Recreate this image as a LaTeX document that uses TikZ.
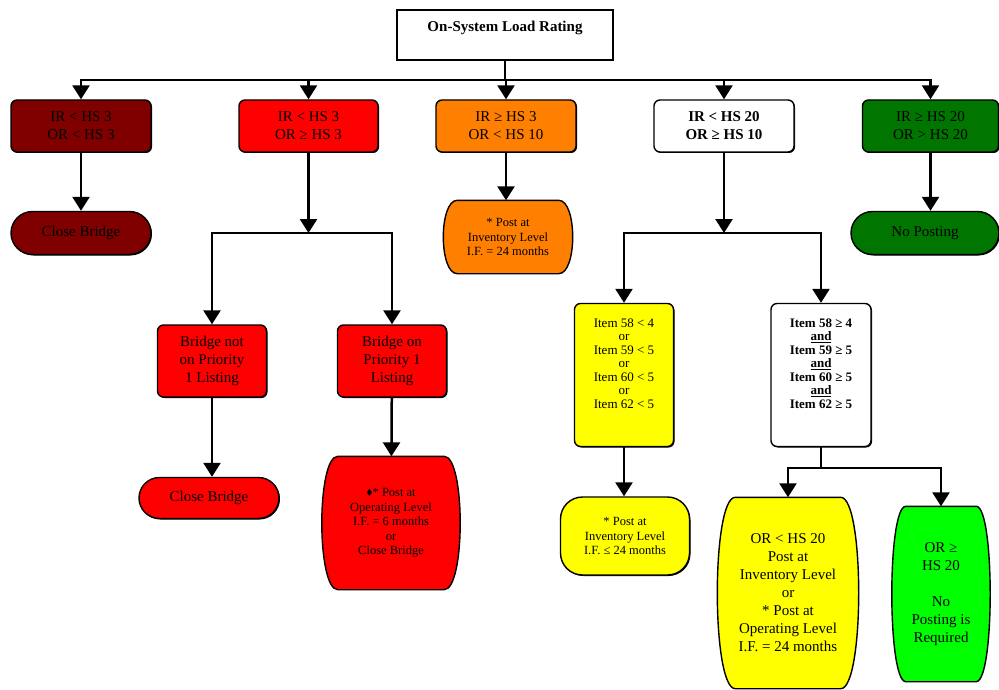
\documentclass[tikz,border=0pt]{standalone}
\usepackage{fontspec}
\setmainfont{Liberation Serif}
\usetikzlibrary{positioning,calc,arrows.meta,shapes.misc,backgrounds,shadows}

\definecolor{maroon}{RGB}{128,0,0}
\definecolor{tangerine}{RGB}{255,128,0}
\definecolor{forest}{RGB}{0,118,0}
\definecolor{lemon}{RGB}{255,255,0}
\definecolor{lime}{RGB}{0,255,0}

\newcommand{\bigtext}{\fontsize{15}{18}\selectfont}
\newcommand{\smalltext}{\fontsize{12.5}{14.5}\selectfont}
\newcommand{\itemtext}{\fontsize{13}{13.5}\selectfont}

% barrel outline round a (borderless) node
\newcommand{\caskoutline}[3]{%
  \begin{scope}[on background layer]
  \draw[line width=1.4pt, fill=#3] ($(#1.north west)+(#2,0)$) -- ($(#1.north east)+(-#2,0)$)
    .. controls ($(#1.north east)+(#2/3,0)$) and ($(#1.south east)+(#2/3,0)$) .. ($(#1.south east)+(-#2,0)$)
    -- ($(#1.south west)+(#2,0)$)
    .. controls ($(#1.south west)+(-#2/3,0)$) and ($(#1.north west)+(-#2/3,0)$) .. cycle;
  \end{scope}}

\begin{document}
\begin{tikzpicture}[x=1pt, y=-1pt,
    block/.style={draw, line width=1.4pt, rounded corners=6pt, align=center, inner sep=0pt,
      font=\bigtext, drop shadow={shadow xshift=1pt, shadow yshift=-1pt, opacity=1, fill=black}},
    stadium/.style={rounded rectangle, draw, line width=1.4pt, align=center, inner sep=0pt,
      font=\bigtext, drop shadow={shadow xshift=1pt, shadow yshift=-1pt, opacity=1, fill=black}},
    cask/.style={align=center, inner sep=0pt},
    wire/.style={line width=2.5pt, line cap=rect},
    arrow/.style={line width=2.5pt, -{Triangle[length=14pt, width=17pt]}}
  ]
  \useasboundingbox (0,0) rectangle (999,690);

  \node[draw, line width=1.4pt, align=center, minimum width=216pt, minimum height=50pt,
    font=\fontsize{15}{18}\selectfont\bfseries] (title) at (505,35) {On-System Load Rating\\\mbox{}};
  \coordinate (bus) at (505,80);

  % first level
  \node[block, fill=maroon, minimum width=140pt, minimum height=52pt] (r1) at (81,126) {IR < HS 3\\OR < HS 3};
  \node[block, fill=red, minimum width=139pt, minimum height=52pt] (r2) at (308.5,126) {IR < HS 3\\OR ≥ HS 3};
  \node[block, fill=tangerine, minimum width=140pt, minimum height=52pt] (r3) at (506,126) {IR ≥ HS 3\\OR < HS 10};
  \node[block, fill=white, minimum width=140pt, minimum height=52pt, font=\bigtext\bfseries] (r4) at (724,126) {IR < HS 20\\OR ≥ HS 10};
  \node[block, fill=forest, minimum width=136pt, minimum height=52pt] (r5) at (930.5,126) {IR ≥ HS 20\\OR > HS 20};

  % second level
  \node[stadium, fill=maroon, minimum width=140pt, minimum height=43pt] (shut1) at (81,233) {Close Bridge};
  \node[cask, minimum width=129pt, minimum height=73pt, font=\smalltext] (post1) at (508,237) {* Post at\\Inventory Level\\I.F. = 24 months};
  \caskoutline{post1}{14}{tangerine}
  \node[stadium, fill=forest, minimum width=148pt, minimum height=43pt] (nopost) at (925,233) {No Posting};
  \coordinate (fork2) at (308.5,233);
  \coordinate (fork4) at (724,233);

  % third level
  \node[block, fill=red, minimum width=109pt, minimum height=72pt] (notlisted) at (212,361) {Bridge not\\on Priority\\1 Listing};
  \node[block, fill=red, minimum width=109pt, minimum height=72pt] (listed) at (392,361) {Bridge on\\Priority 1\\Listing};
  \node[block, fill=lemon, minimum width=99pt, minimum height=143pt, font=\itemtext] (lowitem) at (624,375)
    {Item 58 < 4\\or\\Item 59 < 5\\or\\Item 60 < 5\\or\\Item 62 < 5\\[10pt]\mbox{}};
  \node[block, fill=white, minimum width=100pt, minimum height=143pt, font=\itemtext\bfseries] (highitem) at (821,375)
    {Item 58 ≥ 4\\\underline{and}\\Item 59 ≥ 5\\\underline{and}\\Item 60 ≥ 5\\\underline{and}\\Item 62 ≥ 5\\[10pt]\mbox{}};
  \coordinate (fork6) at (821,468);

  % fourth level
  \node[stadium, fill=red, minimum width=140pt, minimum height=41pt] (shut2) at (209,498) {Close Bridge};
  \node[cask, minimum width=138pt, minimum height=133pt, font=\smalltext] (post2) at (391,523)
    {♦* Post at\\Operating Level\\I.F. = 6 months\\or\\Close Bridge};
  \caskoutline{post2}{16}{red}
  \node[block, rounded corners=22pt, fill=lemon, minimum width=129pt, minimum height=78pt, font=\smalltext] (post3) at (625,536)
    {* Post at\\Inventory Level\\I.F. ≤ 24 months};
  \node[cask, minimum width=141pt, minimum height=191pt, font=\bigtext] (post4) at (788,593)
    {OR < HS 20\\Post at\\Inventory Level\\or\\* Post at\\Operating Level\\I.F. = 24 months};
  \caskoutline{post4}{18}{lemon}
  \node[cask, minimum width=98pt, minimum height=175pt, font=\bigtext] (noneed) at (941,594)
    {OR ≥\\HS 20\\[18pt]No\\Posting is\\Required};
  \caskoutline{noneed}{14}{lime}

  % connectors
  \draw[wire] (title.south) -- (bus);
  \draw[wire] (r1.north |- bus) -- (r5.north |- bus);
  \foreach \n in {r1,r2,r3,r4,r5}
    \draw[arrow] (\n.north |- bus) -- (\n.north);
  \draw[arrow] (r1) -- (shut1);
  \draw[arrow] (r3.south) -- (r3.south |- post1.north);
  \draw[arrow] (r5.south) -- (r5.south |- nopost.north);

  \draw[arrow] (r2.south) -- (fork2);
  \draw[wire] (notlisted.north |- fork2) -- (listed.north |- fork2);
  \draw[arrow] (notlisted.north |- fork2) -- (notlisted.north);
  \draw[arrow] (listed.north |- fork2) -- (listed.north);
  \draw[arrow] (notlisted.south) -- (notlisted.south |- shut2.north);
  \draw[arrow] (listed) -- (post2);

  \draw[arrow] (r4.south) -- (fork4);
  \draw[wire] (lowitem.north |- fork4) -- (highitem.north |- fork4);
  \draw[arrow] (lowitem.north |- fork4) -- (lowitem.north);
  \draw[arrow] (highitem.north |- fork4) -- (highitem.north);
  \draw[arrow] (lowitem.south) -- (lowitem.south |- post3.north);

  \draw[wire] (highitem.south) -- (fork6);
  \draw[wire] (fork6 -| post4.north) -- (fork6 -| noneed.north);
  \draw[arrow] (fork6 -| post4.north) -- (post4.north);
  \draw[arrow] (fork6 -| noneed.north) -- (noneed.north);
\end{tikzpicture}
\end{document}
